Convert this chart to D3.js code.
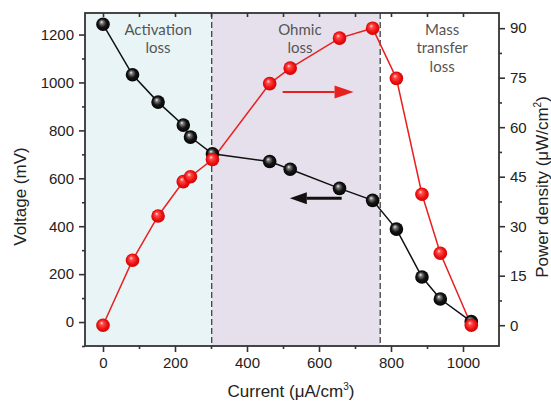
<!DOCTYPE html>
<html>
<head>
<meta charset="utf-8">
<script src="https://cdn.jsdelivr.net/npm/d3@7"></script>
<style>
  body { margin: 0; background: #fff; }
</style>
</head>
<body>
<svg id="chart" width="551" height="403"></svg>
<script>
// current density, uA/cm3
var current = [0, 82, 153, 223, 243, 304, 463, 520, 657, 749, 815, 886, 937, 1023];
// voltage, mV
var voltage = [1243, 1032, 918, 822, 772, 702, 670, 638, 558, 508, 388, 188, 96, 2];
// power density, uW/cm2
var power = [0, 19.7, 33.1, 43.5, 45, 50.2, 73.2, 77.9, 87, 90, 74.8, 39.7, 21.8, 0];

var zones = [
  { name: ['Activation', 'loss'], from: -50, to: 302, color: '#e9f4f6', labelX: 153 },
  { name: ['Ohmic', 'loss'], from: 302, to: 770, color: '#e6e0ec', labelX: 547 },
  { name: ['Mass', 'transfer', 'loss'], from: 770, to: 1100, color: 'none', labelX: 942 }
];
var xTicks = [0, 200, 400, 600, 800, 1000];
var vTicks = [0, 200, 400, 600, 800, 1000, 1200];
var pTicks = [0, 15, 30, 45, 60, 75, 90];

var L = 85, R = 499, T = 13, B = 346;
var ARIAL = "'Liberation Sans', Arimo, Arial, Helvetica, sans-serif";
var svg = d3.select('#chart');

var x = d3.scaleLinear().domain([-50, 1100]).range([L, R]);
var yV = d3.scaleLinear().domain([-100, 1290]).range([B, T]);
var yP = d3.scaleLinear().domain([-6.3, 94.6]).range([B, T]);
var fmt = d3.format('d');

var defs = svg.append('defs');
var gb = defs.append('radialGradient').attr('id', 'ballBlack')
  .attr('cx', '50%').attr('cy', '50%').attr('r', '55%').attr('fx', '38%').attr('fy', '32%');
gb.append('stop').attr('offset', '0%').attr('stop-color', '#f0f0f0');
gb.append('stop').attr('offset', '22%').attr('stop-color', '#777');
gb.append('stop').attr('offset', '55%').attr('stop-color', '#151515');
gb.append('stop').attr('offset', '100%').attr('stop-color', '#000');
var gr = defs.append('radialGradient').attr('id', 'ballRed')
  .attr('cx', '50%').attr('cy', '50%').attr('r', '55%').attr('fx', '38%').attr('fy', '32%');
gr.append('stop').attr('offset', '0%').attr('stop-color', '#ffe0e0');
gr.append('stop').attr('offset', '25%').attr('stop-color', '#ff4a4a');
gr.append('stop').attr('offset', '65%').attr('stop-color', '#ee1010');
gr.append('stop').attr('offset', '100%').attr('stop-color', '#c80000');

// shaded zones
svg.selectAll('.zone').data(zones).enter().append('rect')
  .attr('x', function (d) { return x(d.from); })
  .attr('y', T)
  .attr('width', function (d) { return x(d.to) - x(d.from); })
  .attr('height', B - T)
  .attr('fill', function (d) { return d.color; });

// dashed boundaries
[302, 770].forEach(function (v) {
  svg.append('line')
    .attr('x1', x(v)).attr('x2', x(v)).attr('y1', T).attr('y2', B)
    .attr('stroke', '#333').attr('stroke-width', 1.2).attr('stroke-dasharray', '6,3');
});

// zone labels
zones.forEach(function (z) {
  z.name.forEach(function (s, k) {
    svg.append('text')
      .attr('x', x(z.labelX)).attr('y', 35 + k * 18.3)
      .attr('text-anchor', 'middle')
      .style('font-family', "Lato, 'Open Sans', sans-serif").style('font-size', '15px')
      .style('fill', '#555')
      .text(s);
  });
});

// axes
function minor(step, lo, hi) {
  var a = [];
  for (var v = lo; v <= hi + 1e-9; v += step) a.push(v);
  return a;
}
function styleAxis(g) {
  g.selectAll('path').remove();
  g.attr('font-family', null).attr('font-size', null);
  g.selectAll('line').attr('stroke', '#333').attr('stroke-width', 1.6);
  g.selectAll('text').style('font-family', ARIAL).style('font-size', '15px').attr('fill', '#222');
}

svg.append('g').attr('transform', 'translate(0,' + B + ')')
  .call(d3.axisBottom(x).tickValues(minor(200, 100, 900)).tickSize(3).tickFormat(''))
  .call(styleAxis);
svg.append('g').attr('transform', 'translate(0,' + B + ')')
  .call(d3.axisBottom(x).tickValues(xTicks).tickSize(6).tickPadding(5).tickFormat(fmt))
  .call(styleAxis);
svg.append('g').attr('transform', 'translate(0,' + T + ')')
  .call(d3.axisBottom(x).tickValues(minor(100, 0, 1000)).tickSize(4).tickFormat(''))
  .call(styleAxis);

svg.append('g').attr('transform', 'translate(' + L + ',0)')
  .call(d3.axisLeft(yV).tickValues(minor(200, -100, 1100)).tickSize(3).tickFormat(''))
  .call(styleAxis);
svg.append('g').attr('transform', 'translate(' + L + ',0)')
  .call(d3.axisLeft(yV).tickValues(vTicks).tickSize(6).tickPadding(5).tickFormat(fmt))
  .call(styleAxis);

svg.append('g').attr('transform', 'translate(' + R + ',0)')
  .call(d3.axisRight(yP).tickValues(minor(15, 7.5, 90)).tickSize(3).tickFormat(''))
  .call(styleAxis);
svg.append('g').attr('transform', 'translate(' + R + ',0)')
  .call(d3.axisRight(yP).tickValues(pTicks).tickSize(6).tickPadding(5).tickFormat(fmt))
  .call(styleAxis);

// frame
svg.append('rect').attr('x', L).attr('y', T).attr('width', R - L).attr('height', B - T)
  .attr('fill', 'none').attr('stroke', '#333').attr('stroke-width', 1.8);

// series lines
var idx = d3.range(current.length);
svg.append('path')
  .attr('d', d3.line().x(function (i) { return x(current[i]); }).y(function (i) { return yV(voltage[i]); })(idx))
  .attr('fill', 'none').attr('stroke', '#111').attr('stroke-width', 1.5);
svg.append('path')
  .attr('d', d3.line().x(function (i) { return x(current[i]); }).y(function (i) { return yP(power[i]); })(idx))
  .attr('fill', 'none').attr('stroke', '#e8201f').attr('stroke-width', 1.5);

// markers
svg.selectAll('.vb').data(idx).enter().append('circle')
  .attr('cx', function (i) { return x(current[i]); })
  .attr('cy', function (i) { return yV(voltage[i]); })
  .attr('r', 6.8).attr('fill', 'url(#ballBlack)');
svg.selectAll('.pb').data(idx).enter().append('circle')
  .attr('cx', function (i) { return x(current[i]); })
  .attr('cy', function (i) { return yP(power[i]); })
  .attr('r', 6.8).attr('fill', 'url(#ballRed)');

// direction arrows
function arrow(x1, x2, y, color, w, head, half) {
  var dir = x2 > x1 ? 1 : -1;
  svg.append('line').attr('x1', x1).attr('x2', x2 - dir * head).attr('y1', y).attr('y2', y)
    .attr('stroke', color).attr('stroke-width', w);
  svg.append('path')
    .attr('d', 'M' + x2 + ',' + y + 'L' + (x2 - dir * head) + ',' + (y - half) + 'L' + (x2 - dir * head) + ',' + (y + half) + 'Z')
    .attr('fill', color);
}
arrow(x(499), x(696), yP(70.7), '#e8201f', 2, 19, 6.5);
arrow(x(663), x(519), yV(517), '#111', 3, 17, 6);

// axis titles
function title(t) {
  return t.attr('text-anchor', 'middle').style('font-family', ARIAL).style('font-size', '17px').style('fill', '#222');
}
title(svg.append('text').attr('transform', 'translate(26,' + ((T + B) / 2 + 17) + ') rotate(-90)'))
  .text('Voltage (mV)');

var xt = title(svg.append('text').attr('x', (L + R) / 2 - 1).attr('y', 397));
xt.append('tspan').text('Current (\u03bcA/cm');
xt.append('tspan').attr('dy', -7).style('font-size', '10px').text('3');
xt.append('tspan').attr('dy', 7).text(')');

var pt = title(svg.append('text').attr('transform', 'translate(548,187) rotate(-90)'));
pt.append('tspan').text('Power density (\u03bcW/cm');
pt.append('tspan').attr('dy', -7).style('font-size', '10px').text('2');
pt.append('tspan').attr('dy', 7).text(')');
</script>
</body>
</html>
